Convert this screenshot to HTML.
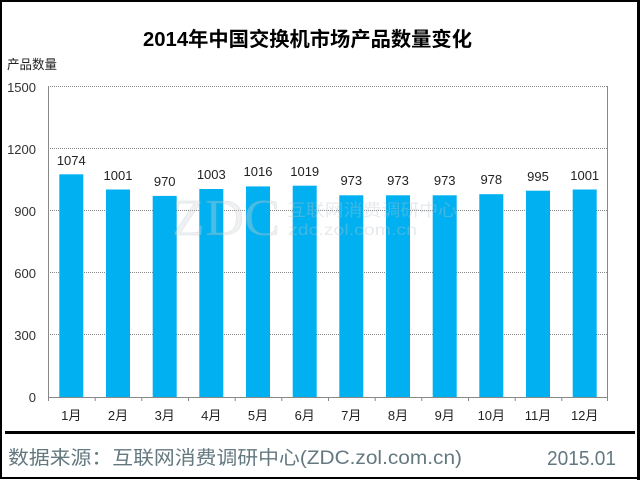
<!DOCTYPE html>
<html><head><meta charset="utf-8"><style>
html,body{margin:0;padding:0;background:#fff;}
svg{display:block;}
</style></head><body>
<svg width="640" height="480" viewBox="0 0 640 480" xmlns="http://www.w3.org/2000/svg">
<rect x="0" y="0" width="640" height="480" fill="#fff"/>
<!-- outer border -->
<rect x="1" y="1" width="637" height="477" fill="none" stroke="#000" stroke-width="2"/>
<line x1="638.5" y1="0" x2="638.5" y2="480" stroke="#000" stroke-width="3"/>

<!-- title -->
<text x="143" y="46" font-family="'Liberation Sans','Noto Sans CJK SC',sans-serif" font-size="20" font-weight="bold" fill="#000" textLength="329" lengthAdjust="spacingAndGlyphs">2014年中国交换机市场产品数量变化</text>
<text x="7" y="69" font-family="'Liberation Sans','Noto Sans CJK SC',sans-serif" font-size="13" fill="#222" textLength="50" lengthAdjust="spacingAndGlyphs">产品数量</text>

<!-- gridlines -->
<g stroke="#888" stroke-width="1" stroke-dasharray="1,1">
<line x1="48" y1="86.5" x2="608" y2="86.5"/>
<line x1="48" y1="148.5" x2="608" y2="148.5"/>
<line x1="48" y1="210.5" x2="608" y2="210.5"/>
<line x1="48" y1="272.5" x2="608" y2="272.5"/>
<line x1="48" y1="334.5" x2="608" y2="334.5"/>
</g>

<!-- y labels -->
<g font-family="'Liberation Sans',sans-serif" font-size="13" fill="#333" text-anchor="end">
<text x="36" y="92">1500</text>
<text x="36" y="154">1200</text>
<text x="36" y="216">900</text>
<text x="36" y="278">600</text>
<text x="36" y="340">300</text>
<text x="36" y="402">0</text>
</g>

<!-- bars -->
<g fill="#00b0f0">
<rect x="59.3" y="174.3" width="24" height="222.7"/>
<rect x="106.0" y="189.5" width="24" height="207.5"/>
<rect x="152.7" y="195.9" width="24" height="201.1"/>
<rect x="199.3" y="189.0" width="24" height="208.0"/>
<rect x="246.0" y="186.4" width="24" height="210.6"/>
<rect x="292.7" y="185.7" width="24" height="211.3"/>
<rect x="339.3" y="195.3" width="24" height="201.7"/>
<rect x="386.0" y="195.3" width="24" height="201.7"/>
<rect x="432.7" y="195.3" width="24" height="201.7"/>
<rect x="479.3" y="194.2" width="24" height="202.8"/>
<rect x="526.0" y="190.7" width="24" height="206.3"/>
<rect x="572.7" y="189.5" width="24" height="207.5"/>
</g>

<!-- watermark -->
<g opacity="0.35">
<text x="172" y="235" font-family="'Liberation Serif',serif" font-size="52" fill="#cfd6da" stroke="#9aa" stroke-width="0.5" textLength="108" lengthAdjust="spacingAndGlyphs">ZDC</text>
<text x="287" y="216" font-family="'Liberation Sans','Noto Sans CJK SC',sans-serif" font-size="17" fill="#b8c4cc" textLength="170" lengthAdjust="spacingAndGlyphs">互联网消费调研中心</text>
<text x="288" y="235" font-family="'Liberation Sans',sans-serif" font-size="16" fill="#b8c4cc" textLength="129" lengthAdjust="spacingAndGlyphs">zdc.zol.com.cn</text>
</g>

<!-- plot frame -->
<line x1="48.5" y1="86" x2="48.5" y2="397" stroke="#888" stroke-width="1"/>
<line x1="607.5" y1="86" x2="607.5" y2="397" stroke="#888" stroke-width="1"/>
<line x1="48" y1="397.5" x2="608" y2="397.5" stroke="#888" stroke-width="1"/>
<g stroke="#888" stroke-width="1">
<line x1="48.5" y1="397" x2="48.5" y2="401"/>
<line x1="95.2" y1="397" x2="95.2" y2="401"/>
<line x1="141.8" y1="397" x2="141.8" y2="401"/>
<line x1="188.5" y1="397" x2="188.5" y2="401"/>
<line x1="235.2" y1="397" x2="235.2" y2="401"/>
<line x1="281.8" y1="397" x2="281.8" y2="401"/>
<line x1="328.5" y1="397" x2="328.5" y2="401"/>
<line x1="375.2" y1="397" x2="375.2" y2="401"/>
<line x1="421.8" y1="397" x2="421.8" y2="401"/>
<line x1="468.5" y1="397" x2="468.5" y2="401"/>
<line x1="515.2" y1="397" x2="515.2" y2="401"/>
<line x1="561.8" y1="397" x2="561.8" y2="401"/>
<line x1="607.5" y1="397" x2="607.5" y2="401"/>
</g>

<!-- value labels -->
<g font-family="'Liberation Sans',sans-serif" font-size="13" fill="#222" text-anchor="middle">
<text x="71.3" y="165">1074</text>
<text x="118.0" y="180">1001</text>
<text x="164.7" y="186">970</text>
<text x="211.3" y="179">1003</text>
<text x="258.0" y="176">1016</text>
<text x="304.7" y="176">1019</text>
<text x="351.3" y="185">973</text>
<text x="398.0" y="185">973</text>
<text x="444.7" y="185">973</text>
<text x="491.3" y="184">978</text>
<text x="538.0" y="181">995</text>
<text x="584.7" y="180">1001</text>
</g>

<!-- x labels -->
<g font-family="'Liberation Sans','Noto Sans CJK SC',sans-serif" font-size="13" fill="#222" text-anchor="middle">
<text x="71.3" y="420">1月</text>
<text x="118.0" y="420">2月</text>
<text x="164.7" y="420">3月</text>
<text x="211.3" y="420">4月</text>
<text x="258.0" y="420">5月</text>
<text x="304.7" y="420">6月</text>
<text x="351.3" y="420">7月</text>
<text x="398.0" y="420">8月</text>
<text x="444.7" y="420">9月</text>
<text x="491.3" y="420">10月</text>
<text x="538.0" y="420">11月</text>
<text x="584.7" y="420">12月</text>
</g>

<!-- separator -->
<rect x="5" y="431" width="630" height="3" fill="#000"/>

<!-- footer -->
<text x="8" y="464" font-family="'Liberation Sans','Noto Sans CJK SC',sans-serif" font-size="19" fill="#647880" textLength="454" lengthAdjust="spacingAndGlyphs">数据来源：互联网消费调研中心(ZDC.zol.com.cn)</text>
<text x="547" y="465" font-family="'Liberation Sans',sans-serif" font-size="20" fill="#647880" textLength="69" lengthAdjust="spacingAndGlyphs">2015.01</text>
</svg>
</body></html>
